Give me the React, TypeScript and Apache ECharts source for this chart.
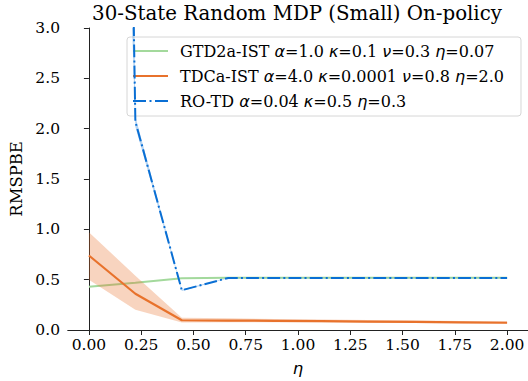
import React, { useEffect, useRef } from "react";
import * as echarts from "echarts";

// Step-size parameter eta (10 evenly spaced settings between 0 and 2)
const etaValues = [0, 0.2222, 0.4444, 0.6667, 0.8889, 1.1111, 1.3333, 1.5556, 1.7778, 2.0];

// GTD2a-IST mean RMSPBE
const gtd2aMean = [0.43, 0.47, 0.515, 0.518, 0.518, 0.518, 0.518, 0.518, 0.518, 0.518];

// TDCa-IST mean RMSPBE and its spread
const tdcaMean = [0.74, 0.36, 0.097, 0.094, 0.091, 0.088, 0.084, 0.08, 0.076, 0.072];
const tdcaLower = [0.5, 0.2, 0.075, 0.078, 0.078, 0.076, 0.073, 0.07, 0.067, 0.064];
const tdcaUpper = [0.97, 0.54, 0.122, 0.116, 0.11, 0.104, 0.099, 0.094, 0.09, 0.086];

// RO-TD mean RMSPBE and its spread
const rotdMean = [30, 2.07, 0.395, 0.517, 0.517, 0.517, 0.517, 0.517, 0.517, 0.517];
const rotdLower = [16, 2.02, 0.388, 0.514, 0.514, 0.514, 0.514, 0.514, 0.514, 0.514];
const rotdUpper = [50, 2.12, 0.402, 0.52, 0.52, 0.52, 0.52, 0.52, 0.52, 0.52];

const xTicks = [0, 0.25, 0.5, 0.75, 1.0, 1.25, 1.5, 1.75, 2.0];

const seriesNames = ["GTD2a-IST", "TDCa-IST", "RO-TD"];
// Legend labels: [plain text, greek letter] pieces
const legendParts: Record<string, Array<[string, string]>> = {
  "GTD2a-IST": [["GTD2a-IST ", "α"], ["=1.0 ", "κ"], ["=0.1 ", "ν"], ["=0.3 ", "η"], ["=0.07", ""]],
  "TDCa-IST": [["TDCa-IST ", "α"], ["=4.0 ", "κ"], ["=0.0001 ", "ν"], ["=0.8 ", "η"], ["=2.0", ""]],
  "RO-TD": [["RO-TD ", "α"], ["=0.04 ", "κ"], ["=0.5 ", "η"], ["=0.3", ""]],
};

const GREEN = "#a3d99c";
const ORANGE = "#e8722c";
const BLUE = "#0a6fd4";
const SERIF = "DejaVu Serif";
const MATH = "DejaVu Sans";

// Legend swatches: a solid bar, and a dash-dot bar for RO-TD
const SOLID_ICON = "path://M0,0h35v2h-35z";
const DASHDOT_ICON = "path://M0,0h13v2h-13zM16.5,0h2v2h-2zM22,0h13v2h-13z";

function pairs(ys: number[]) {
  return etaValues.map((x, i) => [x, ys[i]]);
}

function bandSeries(lower: number[], upper: number[], color: string, opacity: number, z: number) {
  return {
    type: "custom",
    z,
    silent: true,
    data: etaValues.map((x, i) => [x, lower[i], upper[i]]),
    renderItem: (params: any, api: any) => {
      if (params.dataIndex !== 0) return null;
      const pts: number[][] = [];
      for (let i = 0; i < etaValues.length; i++) pts.push(api.coord([etaValues[i], upper[i]]));
      for (let i = etaValues.length - 1; i >= 0; i--) pts.push(api.coord([etaValues[i], lower[i]]));
      const cs = params.coordSys;
      return {
        type: "polygon",
        shape: { points: pts },
        style: { fill: color, opacity },
        clipPath: { type: "rect", shape: { x: cs.x, y: cs.y, width: cs.width, height: cs.height } },
      };
    },
  };
}

export default function App() {
  const ref = useRef<HTMLDivElement>(null);

  useEffect(() => {
    if (!ref.current) return;
    const chart = echarts.init(ref.current, null, { renderer: "svg" });

    const rich: any = {
      n: { fontFamily: SERIF, fontSize: 16, color: "#000" },
      g: { fontFamily: MATH, fontStyle: "italic", fontSize: 16, color: "#000" },
    };

    chart.setOption({
      animation: false,
      backgroundColor: "#fff",
      grid: { left: 68, top: 28, width: 461, height: 305, containLabel: false },
      graphic: [
        {
          type: "text",
          x: 297,
          y: 13,
          style: {
            text: "30-State Random MDP (Small) On-policy",
            fontFamily: SERIF,
            fontSize: 19.8,
            fill: "#000",
            align: "center",
            verticalAlign: "middle",
          },
        },
      ],
      legend: {
        data: [
          { name: seriesNames[0], icon: SOLID_ICON },
          { name: seriesNames[1], icon: SOLID_ICON },
          { name: seriesNames[2], icon: DASHDOT_ICON },
        ],
        left: 127,
        top: 37,
        orient: "vertical",
        itemWidth: 35,
        itemHeight: 2,
        itemGap: 7,
        padding: [5, 17, 6, 6],
        backgroundColor: "rgba(255,255,255,0.8)",
        borderColor: "#d6d6d6",
        borderWidth: 1,
        borderRadius: 3,
        textStyle: { lineHeight: 18, padding: [0, 0, 0, 7], rich },
        formatter: (name: string) =>
          legendParts[name]
            .map(([t, g]) => `{n|${t}}` + (g ? `{g|${g}}` : ""))
            .join(""),
      },
      xAxis: [
        {
          type: "value",
          min: -0.1,
          max: 2.1,
          name: "η",
          nameLocation: "middle",
          nameGap: 30,
          nameTextStyle: { fontFamily: MATH, fontStyle: "italic", fontSize: 16.4, color: "#000" },
          axisLine: { show: true, onZero: false, lineStyle: { color: "#222", width: 1 } },
          axisTick: { show: true, length: 5, customValues: xTicks, lineStyle: { color: "#222" } },
          axisLabel: {
            customValues: xTicks,
            margin: 7,
            fontFamily: SERIF,
            fontSize: 15.5,
            color: "#000",
            formatter: (v: number) => v.toFixed(2),
          },
          splitLine: { show: false },
        },
        {
          type: "value",
          position: "top",
          min: -0.1,
          max: 2.1,
          axisLine: { show: true, lineStyle: { color: "#222", width: 1 } },
          axisTick: { show: false },
          axisLabel: { show: false },
          splitLine: { show: false },
        },
      ],
      yAxis: {
        type: "value",
        min: 0,
        max: 3,
        interval: 0.5,
        name: "RMSPBE",
        nameLocation: "middle",
        nameGap: 38,
        nameTextStyle: { fontFamily: SERIF, fontSize: 16.4, color: "#000" },
        axisLine: { show: true, lineStyle: { color: "#222", width: 1 } },
        axisTick: { show: true, length: 5, lineStyle: { color: "#222" } },
        axisLabel: {
          margin: 8,
          fontFamily: SERIF,
          fontSize: 15.5,
          color: "#000",
          formatter: (v: number) => v.toFixed(1),
        },
        splitLine: { show: false },
      },
      series: [
        {
          name: seriesNames[0],
          type: "line",
          data: pairs(gtd2aMean),
          symbol: "none",
          z: 2,
          lineStyle: { color: GREEN, width: 2 },
          itemStyle: { color: GREEN },
        },
        bandSeries(tdcaLower, tdcaUpper, ORANGE, 0.3, 3),
        {
          name: seriesNames[1],
          type: "line",
          data: pairs(tdcaMean),
          symbol: "none",
          z: 4,
          lineStyle: { color: ORANGE, width: 2.2 },
          itemStyle: { color: ORANGE },
        },
        bandSeries(rotdLower, rotdUpper, BLUE, 0.3, 5),
        {
          name: seriesNames[2],
          type: "line",
          data: pairs(rotdMean),
          symbol: "none",
          z: 6,
          lineStyle: { color: BLUE, width: 2, type: [12.8, 3.2, 2, 3.2] },
          itemStyle: { color: BLUE },
        },
      ],
    });

    return () => chart.dispose();
  }, []);

  return <div ref={ref} style={{ width: 528, height: 381, position: "absolute", left: 0, top: 0 }} />;
}
